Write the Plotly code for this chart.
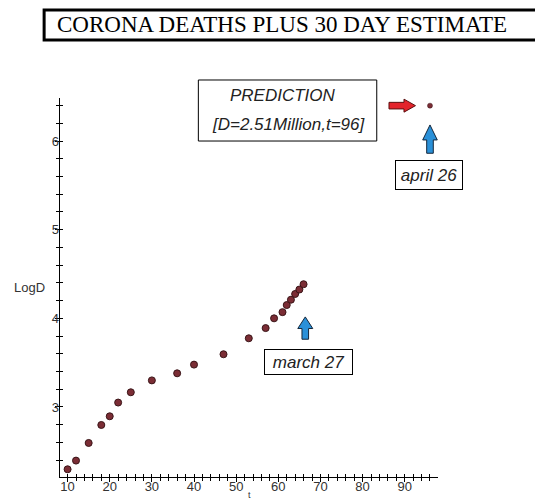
import plotly.graph_objects as go

# Data
t_days = [10, 12, 15, 18, 20, 22, 25, 30, 36, 40, 47, 53, 57, 59, 61, 62, 63, 64, 65, 66]
log_deaths = [2.297, 2.395, 2.594, 2.797, 2.895, 3.05, 3.166, 3.30, 3.38, 3.478,
              3.595, 3.775, 3.89, 4.0, 4.07, 4.15, 4.21, 4.275, 4.325, 4.385]
pred_t = [96]
pred_log = [6.3997]

x_ticks = [10, 20, 30, 40, 50, 60, 70, 80, 90]
y_ticks = [3, 4, 5, 6]

MARK = "#7b2d35"
MARK_LINE = "#3a1518"
LABEL_FONT = "Liberation Sans, Arial, sans-serif"

fig = go.Figure()
fig.add_trace(go.Scatter(
    x=t_days, y=log_deaths, mode="markers",
    marker=dict(size=7, color=MARK, line=dict(color=MARK_LINE, width=1)),
    showlegend=False, hoverinfo="x+y"))
fig.add_trace(go.Scatter(
    x=pred_t, y=pred_log, mode="markers",
    marker=dict(size=5, color=MARK, line=dict(color=MARK_LINE, width=0.5)),
    showlegend=False, hoverinfo="x+y"))
# helper trace for overlay axes (crossing ticks + labels)
fig.add_trace(go.Scatter(x=[None], y=[None], xaxis="x2", yaxis="y2",
                         showlegend=False, hoverinfo="skip"))

xr = [8.2, 97.9]
yr = [2.21, 6.486]

fig.update_layout(
    width=535, height=492,
    margin=dict(l=52, r=105, t=90, b=23, autoexpand=False),
    paper_bgcolor="white", plot_bgcolor="white",
    xaxis=dict(range=xr, showgrid=False, zeroline=False, showline=True,
               linecolor="black", linewidth=1,
               ticks="outside", ticklen=4, tickcolor="black",
               tickvals=x_ticks, showticklabels=False,
               minor=dict(dtick=2, tick0=0, ticks="outside", ticklen=3, tickcolor="black"),
               automargin=False),
    yaxis=dict(range=yr, showgrid=False, zeroline=False, showline=True,
               linecolor="black", linewidth=1,
               ticks="outside", ticklen=4, tickcolor="black",
               tickvals=y_ticks, showticklabels=False,
               minor=dict(dtick=0.2, tick0=0, ticks="outside", ticklen=3, tickcolor="black"),
               automargin=False),
    xaxis2=dict(overlaying="x", matches="x", anchor="y2", range=xr, showgrid=False,
                zeroline=False, showline=False, showticklabels=True,
                tickvals=x_ticks, ticktext=[str(v) for v in x_ticks],
                tickfont=dict(family=LABEL_FONT, size=13, color="#333"),
                ticks="inside", ticklen=3, tickcolor="black",
                minor=dict(dtick=2, tick0=0, ticks="inside", ticklen=3, tickcolor="black"),
                automargin=False),
    yaxis2=dict(overlaying="y", matches="y", anchor="x2", range=yr, showgrid=False,
                zeroline=False, showline=False, showticklabels=True,
                tickvals=y_ticks, ticktext=[str(v) for v in y_ticks],
                tickfont=dict(family=LABEL_FONT, size=13, color="#333"),
                ticks="inside", ticklen=3, tickcolor="black",
                minor=dict(dtick=0.2, tick0=0, ticks="inside", ticklen=3, tickcolor="black"),
                automargin=False),
)

shapes = []
# Title box
shapes.append(dict(type="rect", xref="paper", yref="paper",
                   x0=-0.042, x1=1.30, y0=1.153, y1=1.232,
                   line=dict(color="black", width=3), fillcolor="white", layer="below"))
# Prediction box
shapes.append(dict(type="rect", xref="paper", yref="paper",
                   x0=0.366, x1=0.838, y0=0.8865, y1=1.0475,
                   line=dict(color="black", width=1), fillcolor="rgba(0,0,0,0)"))
# Red arrow pointing at prediction
shapes.append(dict(type="path", xref="x", yref="y", xsizemode="pixel", ysizemode="pixel",
                   xanchor=pred_t[0], yanchor=pred_log[0],
                   path="M -41,-3.3 L -26,-3.3 L -26,-6.5 L -14.5,0 L -26,6.5 L -26,3.3 L -41,3.3 Z",
                   fillcolor="#e3232b", line=dict(color="#5a1010", width=1)))
# Blue arrow under prediction
shapes.append(dict(type="path", xref="x", yref="y", xsizemode="pixel", ysizemode="pixel",
                   xanchor=pred_t[0], yanchor=pred_log[0],
                   path="M 0,-19.3 L 7.3,-34.3 L 3.3,-34.3 L 3.3,-47.6 L -3.3,-47.6 L -3.3,-34.3 L -7.3,-34.3 Z",
                   fillcolor="#2a90d8", line=dict(color="#14263a", width=1)))
# Blue arrow for march 27
shapes.append(dict(type="path", xref="x", yref="y", xsizemode="pixel", ysizemode="pixel",
                   xanchor=t_days[-1], yanchor=log_deaths[-1],
                   path="M 1.7,-32.7 L 9.2,-44.3 L 5,-44.3 L 5,-55 L -1.6,-55 L -1.6,-44.3 L -5.8,-44.3 Z",
                   fillcolor="#2a90d8", line=dict(color="#14263a", width=1)))
fig.update_layout(shapes=shapes)

ann = []
ann.append(dict(xref="paper", yref="paper", x=-0.013, y=1.193, xanchor="left", yanchor="middle",
                text="CORONA DEATHS PLUS 30 DAY ESTIMATE", showarrow=False,
                font=dict(family="Liberation Serif, Times New Roman, serif", size=23, color="black")))
ann.append(dict(xref="paper", yref="paper", x=(282.5 - 60) / 378, y=(477 - 95.5) / 379,
                xanchor="center", yanchor="middle", showarrow=False,
                text="<i>PREDICTION</i>",
                font=dict(family=LABEL_FONT, size=17, color="#222")))
ann.append(dict(xref="paper", yref="paper", x=(288 - 60) / 378, y=(477 - 124.5) / 379,
                xanchor="center", yanchor="middle", showarrow=False,
                text="<i>[D=2.51Million,t=96]</i>",
                font=dict(family=LABEL_FONT, size=17, color="#222")))
ann.append(dict(xref="paper", yref="paper", x=(429 - 60) / 378, y=(477 - 175) / 379,
                xanchor="center", yanchor="middle", showarrow=False,
                text="<i>april 26</i>", width=64, height=26, borderpad=1,
                bordercolor="black", borderwidth=1, bgcolor="white",
                font=dict(family=LABEL_FONT, size=17, color="#222")))
ann.append(dict(xref="paper", yref="paper", x=(308 - 60) / 378, y=(477 - 362) / 379,
                xanchor="center", yanchor="middle", showarrow=False,
                text="<i>march 27</i>", width=85, height=22, borderpad=1,
                bordercolor="black", borderwidth=1, bgcolor="white",
                font=dict(family=LABEL_FONT, size=17, color="#222")))
ann.append(dict(xref="paper", yref="paper", x=(29 - 60) / 378, y=(477 - 287) / 379,
                xanchor="center", yanchor="middle", showarrow=False, text="LogD",
                font=dict(family=LABEL_FONT, size=13, color="#333")))
ann.append(dict(xref="paper", yref="paper", x=(249 - 60) / 378, y=(477 - 495) / 379,
                xanchor="center", yanchor="middle", showarrow=False, text="t",
                font=dict(family=LABEL_FONT, size=9, color="#333")))
fig.update_layout(annotations=ann)

fig.write_html("out.html")
